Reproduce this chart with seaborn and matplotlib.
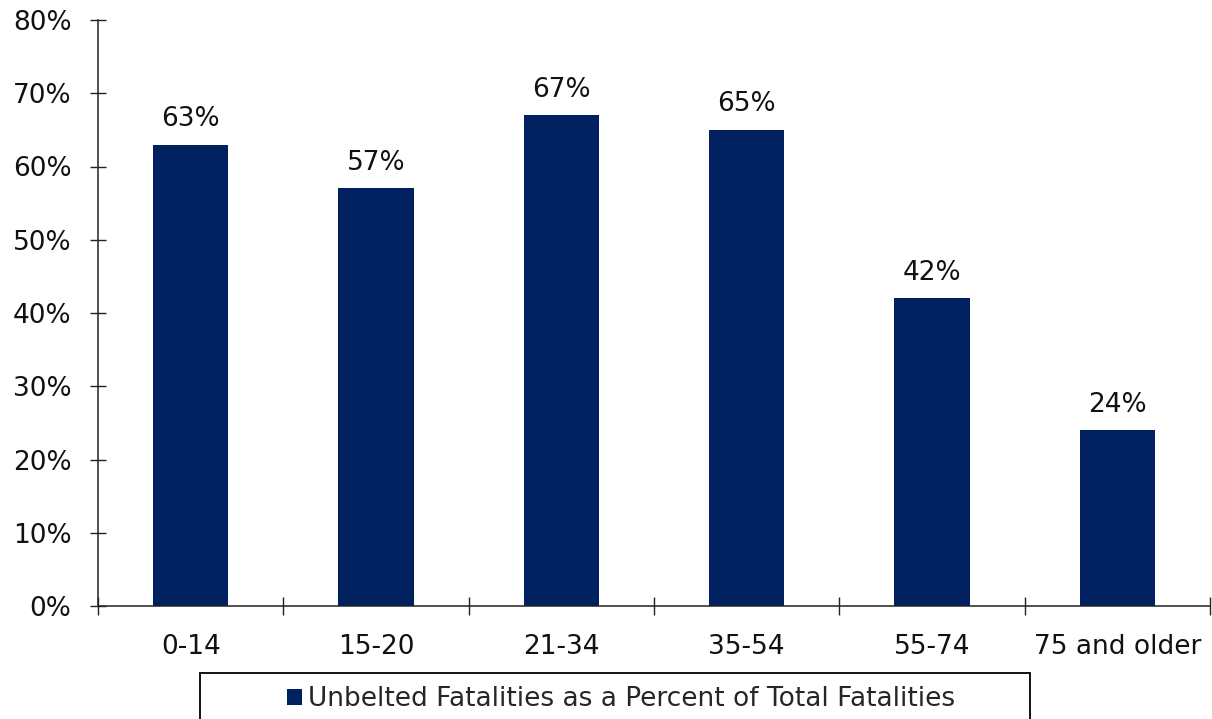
import matplotlib
matplotlib.use("Agg")
import matplotlib.pyplot as plt
from matplotlib.patches import Patch, Rectangle
from matplotlib.ticker import FixedLocator, FuncFormatter
import seaborn as sns
import pandas as pd

categories = ["0-14", "15-20", "21-34", "35-54", "55-74", "75 and older"]
values = [63, 57, 67, 65, 42, 24]
series_name = "Unbelted Fatalities as a Percent of Total Fatalities"
yticks = [0, 10, 20, 30, 40, 50, 60, 70, 80]

bar_color = "#00205f"
fs = 19

sns.set_theme(style="white")
plt.rcParams["font.family"] = ["DejaVu Sans"]

df = pd.DataFrame({"age": categories, "pct": values})

fig = plt.figure(figsize=(12.12, 7.19), dpi=100)
ax = fig.add_axes([98 / 1212, 1 - 606 / 719, (1210 - 98) / 1212, (606 - 20) / 719])

sns.barplot(data=df, x="age", y="pct", color=bar_color, saturation=1,
            width=0.405, ax=ax, edgecolor="none")

ax.set_xlim(-0.5, len(categories) - 0.5)
ax.set_ylim(0, 80)
ax.set_xlabel("")
ax.set_ylabel("")

# y axis
ax.yaxis.set_major_locator(FixedLocator(yticks))
ax.yaxis.set_major_formatter(FuncFormatter(lambda v, p: f"{int(v)}%"))
ax.tick_params(axis="y", which="major", direction="inout", length=12, width=1,
               color="#222222", labelsize=fs, pad=13, labelcolor="#111111", left=True)

# x axis: ticks at boundaries, labels at centers
ax.set_xticks([i for i in range(len(categories))])
ax.set_xticklabels(categories)
ax.set_xticks([i - 0.5 for i in range(len(categories) + 1)], minor=True)
ax.tick_params(axis="x", which="major", length=0, labelsize=fs, pad=20,
               labelcolor="#111111")
ax.tick_params(axis="x", which="minor", direction="inout", length=13, width=1,
               color="#222222", bottom=True)

for s in ["top", "right"]:
    ax.spines[s].set_visible(False)
for s in ["left", "bottom"]:
    ax.spines[s].set_color("#222222")
    ax.spines[s].set_linewidth(1.1)

ax.grid(False)

ax.bar_label(ax.containers[0], labels=[f"{v}%" for v in values], padding=9,
             fontsize=fs, color="#111111")

# legend
fig.patches.append(Rectangle((200 / 1212, -0.05), (1030 - 200) / 1212, 0.05 + (719 - 673) / 719,
                             transform=fig.transFigure, fill=False, edgecolor="black",
                             linewidth=1.3, clip_on=False))
handle = Patch(facecolor=bar_color, edgecolor="none", label=series_name)
fig.legend(handles=[handle], loc="center", bbox_to_anchor=(621 / 1212, 1 - 699 / 719),
           frameon=False, fontsize=fs, handlelength=0.57, handleheight=0.57,
           handletextpad=0.22, borderpad=0, borderaxespad=0)

fig.savefig("out.png", dpi=100)
